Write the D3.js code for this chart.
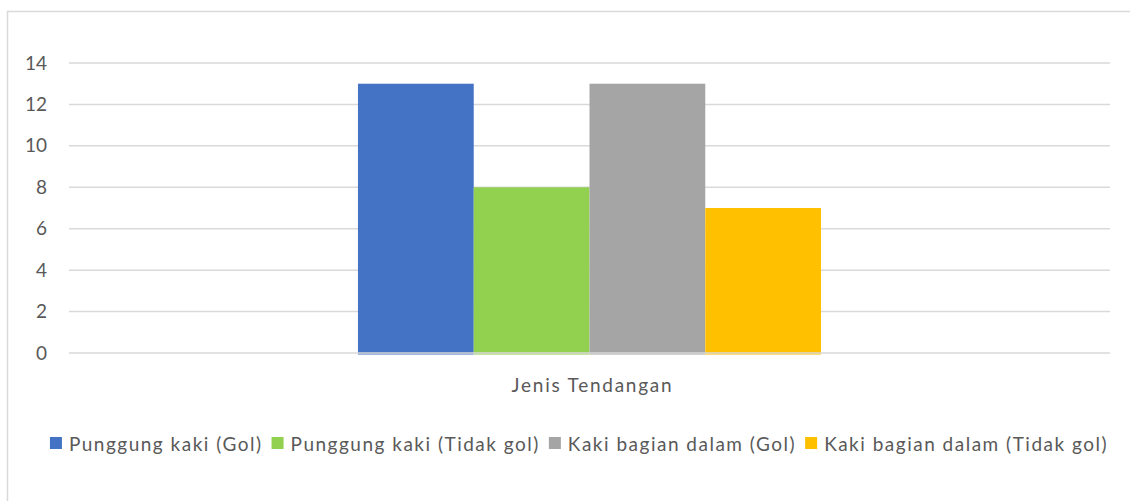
<!DOCTYPE html>
<html>
<head>
<script src="https://d3js.org/d3.v7.min.js"></script>
<style>
  body { margin: 0; background: #fff; font-family: Lato, "Open Sans", sans-serif; }
</style>
</head>
<body>
<svg id="chart" width="1130" height="501"></svg>
<script>
// data
var categories = ["Jenis Tendangan"];
var seriesNames = ["Punggung kaki (Gol)", "Punggung kaki (Tidak gol)", "Kaki bagian dalam (Gol)", "Kaki bagian dalam (Tidak gol)"];
var seriesValues = [13, 8, 13, 7];
var yTicks = [0, 2, 4, 6, 8, 10, 12, 14];
var colors = ["#4472C4", "#92D050", "#A5A5A5", "#FFC000"];

var svg = d3.select("#chart");
var plotLeft = 69, plotRight = 1110, plotTop = 63, plotBottom = 353;

// chart frame
svg.append("rect")
   .attr("x", 7.5).attr("y", 11.5)
   .attr("width", 1130).attr("height", 520)
   .attr("fill", "none")
   .attr("stroke", "#d9d9d9")
   .attr("stroke-width", 1.5);

var y = d3.scaleLinear().domain([0, 14]).range([plotBottom, plotTop]);
var x0 = d3.scaleBand().domain(categories).range([plotLeft, plotRight]).paddingInner(0).paddingOuter(0.624);
var x1 = d3.scaleBand().domain(seriesNames).range([0, x0.bandwidth()]);

// gridlines
svg.append("g").selectAll("line")
   .data(yTicks.filter(function(d) { return d > 0; }))
   .enter().append("line")
   .attr("x1", plotLeft).attr("x2", plotRight)
   .attr("y1", function(d) { return y(d); })
   .attr("y2", function(d) { return y(d); })
   .attr("stroke", "#d9d9d9")
   .attr("stroke-width", 1.5);

// y labels
var yAxis = svg.append("g")
   .attr("transform", "translate(47,0)")
   .call(d3.axisLeft(y).tickValues(yTicks).tickSize(0).tickPadding(0));
yAxis.select(".domain").remove();
yAxis.selectAll("text")
   .attr("font-family", "Lato, sans-serif")
   .attr("font-size", 19)
   .attr("fill", "#595959");

// bars
categories.forEach(function(cat) {
   svg.append("g").selectAll("rect")
      .data(seriesNames)
      .enter().append("rect")
      .attr("x", function(d) { return x0(cat) + x1(d); })
      .attr("width", x1.bandwidth())
      .attr("y", function(d, i) { return y(seriesValues[i]); })
      .attr("height", function(d, i) { return y(0) - y(seriesValues[i]) + 1.5; })
      .attr("fill", function(d, i) { return colors[i]; });
});

// zero line over the bars
svg.append("line")
   .attr("x1", plotLeft).attr("x2", plotRight)
   .attr("y1", y(0)).attr("y2", y(0))
   .attr("stroke", "#d9d9d9")
   .attr("stroke-width", 1.5);

// category label
svg.append("g").selectAll("text")
   .data(categories)
   .enter().append("text")
   .attr("x", function(d) { return x0(d) + x0.bandwidth() / 2 + 3; })
   .attr("y", 392)
   .attr("text-anchor", "middle")
   .attr("font-size", 19)
   .attr("letter-spacing", 1.75)
   .attr("fill", "#595959")
   .text(function(d) { return d; });

// legend, laid out left to right then centred
var legend = svg.append("g");
var items = legend.selectAll("g").data(seriesNames).enter().append("g");
items.append("rect")
   .attr("width", 12).attr("height", 12)
   .attr("y", -14)
   .attr("fill", function(d, i) { return colors[i]; });
items.append("text")
   .attr("x", 19)
   .attr("font-size", 19)
   .attr("letter-spacing", 1.5)
   .attr("fill", "#595959")
   .text(function(d) { return d; });
var pos = 0;
items.each(function() {
   d3.select(this).attr("transform", "translate(" + pos + ",0)");
   pos += 19 + this.querySelector("text").getComputedTextLength() + 9;
});
pos -= 9;
legend.attr("transform", "translate(" + (579 - pos / 2) + ",451)");
</script>
</body>
</html>
